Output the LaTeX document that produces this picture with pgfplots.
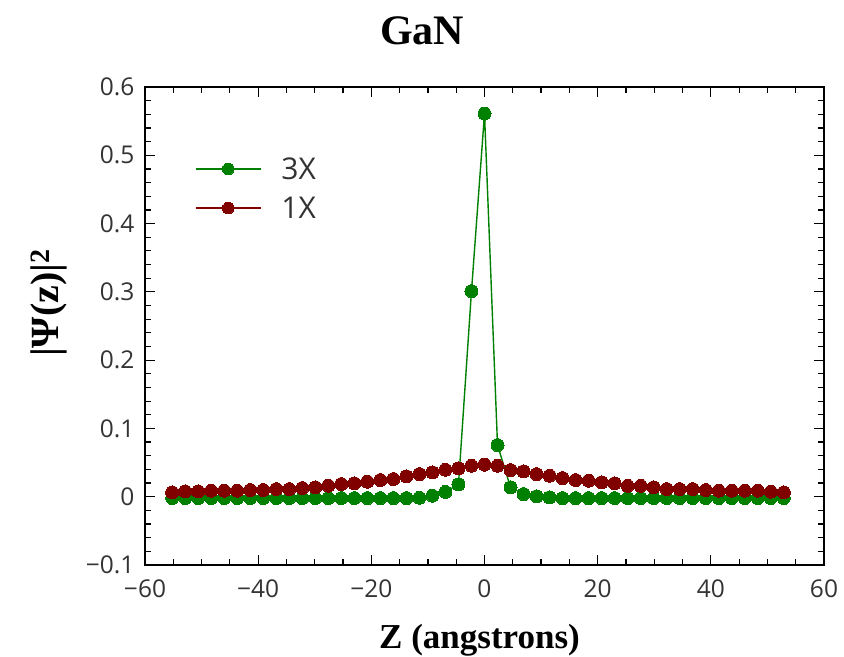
\documentclass[border=0pt]{standalone}
\usepackage{fontspec}
\setmainfont{Liberation Serif}
\newfontfamily\tickfont{Open Sans}
\usepackage{pgfplots}
\pgfplotsset{compat=1.18}
\definecolor{cgreen}{RGB}{0,128,0}
\definecolor{cred}{RGB}{128,0,0}

\pgfplotstableread{
x y
-55.2 -0.002
-52.9 -0.002
-50.6 -0.002
-48.3 -0.002
-46.0 -0.002
-43.7 -0.002
-41.4 -0.002
-39.1 -0.002
-36.8 -0.002
-34.5 -0.002
-32.2 -0.002
-29.9 -0.002
-27.6 -0.002
-25.3 -0.002
-23.0 -0.002
-20.7 -0.002
-18.4 -0.002
-16.1 -0.002
-13.8 -0.002
-11.5 -0.0015
-9.2 0.0015
-6.9 0.007
-4.6 0.018
-2.3 0.301
0.0 0.561
2.3 0.0757
4.6 0.0137
6.9 0.0039
9.2 0.0005
11.5 -0.001
13.8 -0.002
16.1 -0.002
18.4 -0.002
20.7 -0.002
23.0 -0.002
25.3 -0.002
27.6 -0.002
29.9 -0.002
32.2 -0.002
34.5 -0.002
36.8 -0.002
39.1 -0.002
41.4 -0.002
43.7 -0.002
46.0 -0.002
48.3 -0.002
50.6 -0.002
52.9 -0.002
}\threeX

\pgfplotstableread{
x y
-55.2 0.0063
-52.9 0.0078
-50.6 0.0078
-48.3 0.0088
-46.0 0.0088
-43.7 0.0088
-41.4 0.0098
-39.1 0.0098
-36.8 0.0112
-34.5 0.0112
-32.2 0.0127
-29.9 0.0137
-27.6 0.0161
-25.3 0.0185
-23.0 0.0195
-20.7 0.0220
-18.4 0.0244
-16.1 0.0259
-13.8 0.0298
-11.5 0.0332
-9.2 0.0356
-6.9 0.0395
-4.6 0.0415
-2.3 0.0454
0.0 0.0470
2.3 0.0454
4.6 0.0390
6.9 0.0370
9.2 0.0330
11.5 0.0307
13.8 0.0273
16.1 0.0244
18.4 0.0234
20.7 0.0210
23.0 0.0195
25.3 0.0160
27.6 0.0160
29.9 0.0137
32.2 0.0112
34.5 0.0112
36.8 0.0112
39.1 0.0098
41.4 0.0088
43.7 0.0088
46.0 0.0088
48.3 0.0088
50.6 0.0073
52.9 0.0063
}\oneX

\begin{document}
\begin{tikzpicture}
\begin{axis}[
  scale only axis, width=679pt, height=478pt,
  xmin=-60, xmax=60, ymin=-0.1, ymax=0.6,
  xtick={-60,-40,-20,0,20,40,60},
  xticklabels={−60,−40,−20,0,20,40,60},
  ytick={-0.1,0,0.1,0.2,0.3,0.4,0.5,0.6},
  yticklabels={−0.1,0,0.1,0.2,0.3,0.4,0.5,0.6},
  minor x tick num=3, minor y tick num=4,
  tick align=inside, major tick length=10pt, minor tick length=6pt,
  axis line style={line width=1.2pt, black},
  every tick/.style={black, line width=1.2pt},
  tick label style={font=\tickfont\fontsize{24.5}{28}\selectfont, text=black!80},
  xticklabel style={yshift=-11pt},
  yticklabel style={xshift=-7pt},
  legend style={draw=none, fill=none, inner sep=0pt, outer sep=0pt,
    at={(0.0736,0.7877)}, anchor=west,
    font=\tickfont\fontsize{30}{34}\selectfont, text=black!80,
    row sep=12pt,
    /tikz/every odd column/.append style={column sep=18pt}},
  legend cell align=left,
  legend image code/.code={%
    \draw[mark repeat=2,mark phase=2,#1,line width=1.5pt,mark size=5.8pt] plot coordinates {(0pt,0pt) (32.5pt,0pt) (65pt,0pt)};},
]
\addplot[cgreen, line width=1.4pt, mark=*, mark size=6.5pt, mark options={solid, fill=cgreen, draw=cgreen, line width=0pt}] table {\threeX};
\addlegendentry{3X}
\addplot[cred, line width=1.4pt, mark=*, mark size=6.5pt, mark options={solid, fill=cred, draw=cred, line width=0pt}] table {\oneX};
\addlegendentry{1X}
\end{axis}
\node[font=\bfseries\fontsize{42}{48}\selectfont, anchor=base] at ([xshift=277pt, yshift=42pt]current axis.north west) {GaN};
\node[font=\bfseries\fontsize{35}{40}\selectfont, anchor=base] at ([xshift=334.5pt, yshift=-83pt]current axis.south west) {Z (angstrons)};
\node[font=\bfseries\fontsize{40}{46}\selectfont, anchor=base, rotate=90] at ([xshift=-86pt, yshift=262pt]current axis.south west) {|Ψ(z)|\textsuperscript{2}};
\pgfresetboundingbox
\path[use as bounding box] ([xshift=-145pt,yshift=-92pt]current axis.south west) rectangle ([xshift=20pt,yshift=87pt]current axis.north east);
\end{tikzpicture}
\end{document}
